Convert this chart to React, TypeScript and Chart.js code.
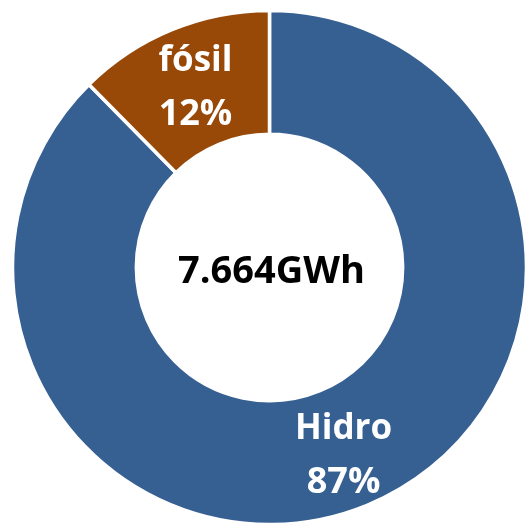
import React, { useEffect, useRef } from "react";
import { Chart, registerables } from "chart.js";

Chart.register(...registerables);

const categories = ["Hidro", "fósil"];
const values = [6.714, 0.95];
const percentLabels = ["87%", "12%"];
const colors = ["#376092", "#984807"];
const centerText = "7.664GWh";

const FONT = '"Open Sans", "Liberation Sans", sans-serif';

const labelPlugin = {
  id: "sliceLabels",
  afterDatasetsDraw(chart: any) {
    const ctx = chart.ctx;
    const meta = chart.getDatasetMeta(0);
    ctx.save();
    ctx.textAlign = "center";
    ctx.textBaseline = "alphabetic";
    meta.data.forEach((arc: any, i: number) => {
      const p = arc.tooltipPosition();
      const dy = i === 0 ? 7 : 0;
      ctx.fillStyle = "#ffffff";
      ctx.font = `bold 35px ${FONT}`;
      ctx.fillText(categories[i], p.x, p.y - 16 + dy);
      ctx.font = `bold 36px ${FONT}`;
      ctx.fillText(percentLabels[i], p.x, p.y + 38 + dy);
    });
    const first = meta.data[0];
    if (first) {
      ctx.fillStyle = "#000000";
      ctx.font = `bold 38px ${FONT}`;
      ctx.fillText(centerText, first.x + 2, first.y + 15);
    }
    ctx.restore();
  },
};

export default function App() {
  const ref = useRef<HTMLCanvasElement | null>(null);
  useEffect(() => {
    if (!ref.current) return;
    const chart = new Chart(ref.current, {
      type: "doughnut",
      data: {
        labels: categories,
        datasets: [
          {
            data: values,
            backgroundColor: colors,
            borderColor: "#ffffff",
            borderWidth: 3.5,
            hoverOffset: 0,
            offset: 0,
            clip: false,
          },
        ],
      },
      options: {
        animation: false,
        responsive: false,
        radius: 257,
        cutout: 133,
        layout: { padding: { left: 3, top: 1 } },
        plugins: {
          legend: { display: false },
          tooltip: { enabled: false },
        },
      },
      plugins: [labelPlugin],
    });
    return () => chart.destroy();
  }, []);
  return (
    <div style={{ position: "fixed", left: 8, top: 8, width: 520, height: 518 }}>
      <canvas ref={ref} width={520} height={518} style={{ display: "block", width: 520, height: 518 }} />
    </div>
  );
}
